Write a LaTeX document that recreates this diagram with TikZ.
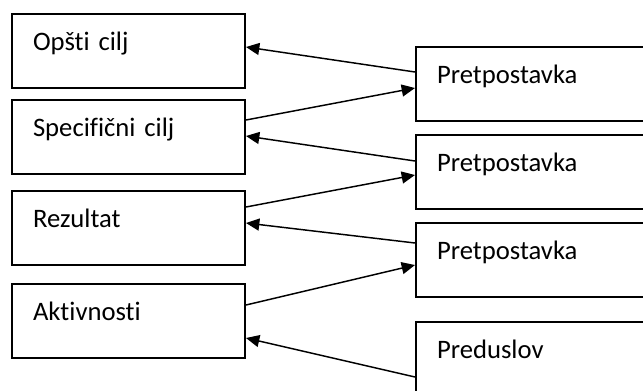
\documentclass[tikz,border=0pt]{standalone}
\usepackage{fontspec}
\setmainfont{Carlito}[Ligatures=NoCommon]
\usetikzlibrary{arrows.meta,calc}

\begin{document}
\begin{tikzpicture}[x=0.75pt, y=-0.75pt,
    box/.style={draw, line width=1.5pt, rectangle, anchor=north west, align=left,
        inner xsep=15.75pt, inner ysep=13.5pt, text height=13.5pt, text depth=15pt,
        font=\fontsize{20}{24}\selectfont},
    lbox/.style={box, text width=143.25pt},
    rbox/.style={box, text width=163pt},
    link/.style={line width=1.1pt, -{Triangle[length=10pt, width=9pt]}}]
            % Page
            \clip (0,0) rectangle (643,390);

            % Left column
            \node[lbox] (ciljO) at (11,13) {Opšti cilj};
            \node[lbox] (ciljS) at (11,99) {Specifični cilj};
            \node[lbox] (rez) at (11,190) {Rezultat};
            \node[lbox] (akt) at (11,283) {Aktivnosti};

            % Right column
            \node[rbox] (pret1) at (415,46) {Pretpostavka};
            \node[rbox] (pret2) at (415,134) {Pretpostavka};
            \node[rbox] (pret3) at (415,222) {Pretpostavka};
            \node[rbox] (pred) at (415,321) {Preduslov};

            % Links
            \draw[link] ($(pret1.north west)+(0,26)$) -- ($(ciljO.north east)+(0,34)$);
            \draw[link] ($(ciljS.north east)+(0,21)$) -- ($(pret1.north west)+(0,42)$);
            \draw[link] ($(pret2.north west)+(0,27)$) -- ($(ciljS.north east)+(0,37)$);
            \draw[link] ($(rez.north east)+(0,17)$) -- ($(pret2.north west)+(0,41)$);
            \draw[link] ($(pret3.north west)+(0,21)$) -- ($(rez.north east)+(0,33)$);
            \draw[link] ($(akt.north east)+(0,22)$) -- ($(pret3.north west)+(0,43)$);
            \draw[link] ($(pred.north west)+(0,56)$) -- ($(akt.north east)+(0,55)$);
\end{tikzpicture}
\end{document}
